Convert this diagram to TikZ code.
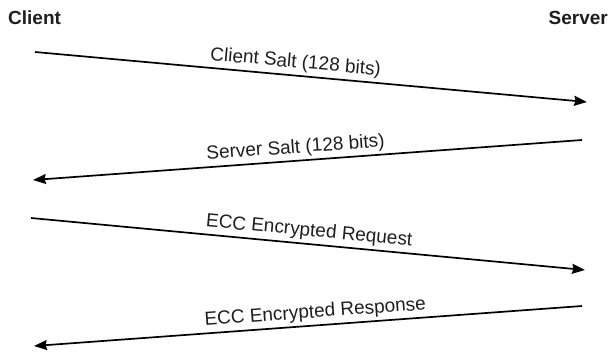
\documentclass[tikz,border=0pt]{standalone}
\usepackage{fontspec}
\setmainfont{Liberation Sans}
\usetikzlibrary{arrows.meta}
\definecolor{inkgray}{HTML}{1E1E1E}
\begin{document}
\begin{tikzpicture}[x=1pt,y=-1pt,
  party/.style={font=\fontsize{19}{22}\selectfont\bfseries, text=inkgray, inner sep=0pt},
  msg/.style={line width=1.7pt, -{Stealth[length=13pt,width=10pt,inset=1.5pt]}},
  msglabel/.style={font=\fontsize{19}{22}\selectfont, text=inkgray, sloped, above, inner sep=3pt}]
  \useasboundingbox (0,0) rectangle (610,356);

  % participants
  \node[party, anchor=base west] (client) at (8,24) {Client};
  \node[party, anchor=base east] (server) at (608,24) {Server};

  % message end points
  \coordinate (c1) at (35,52);   \coordinate (s1) at (587,102);
  \coordinate (s2) at (582,140); \coordinate (c2) at (33,180);
  \coordinate (c3) at (31,218);  \coordinate (s3) at (585,270);
  \coordinate (s4) at (582,306); \coordinate (c4) at (34,346);

  % messages
  \draw[msg] (c1) -- node[msglabel, pos=0.47] (m1) {Client Salt (128 bits)} (s1);
  \draw[msg] (s2) -- node[msglabel, pos=0.52] (m2) {Server Salt (128 bits)} (c2);
  \draw[msg] (c3) -- node[msglabel, pos=0.50] (m3) {ECC Encrypted Request} (s3);
  \draw[msg] (s4) -- node[msglabel, pos=0.485] (m4) {ECC Encrypted Response} (c4);
\end{tikzpicture}
\end{document}
